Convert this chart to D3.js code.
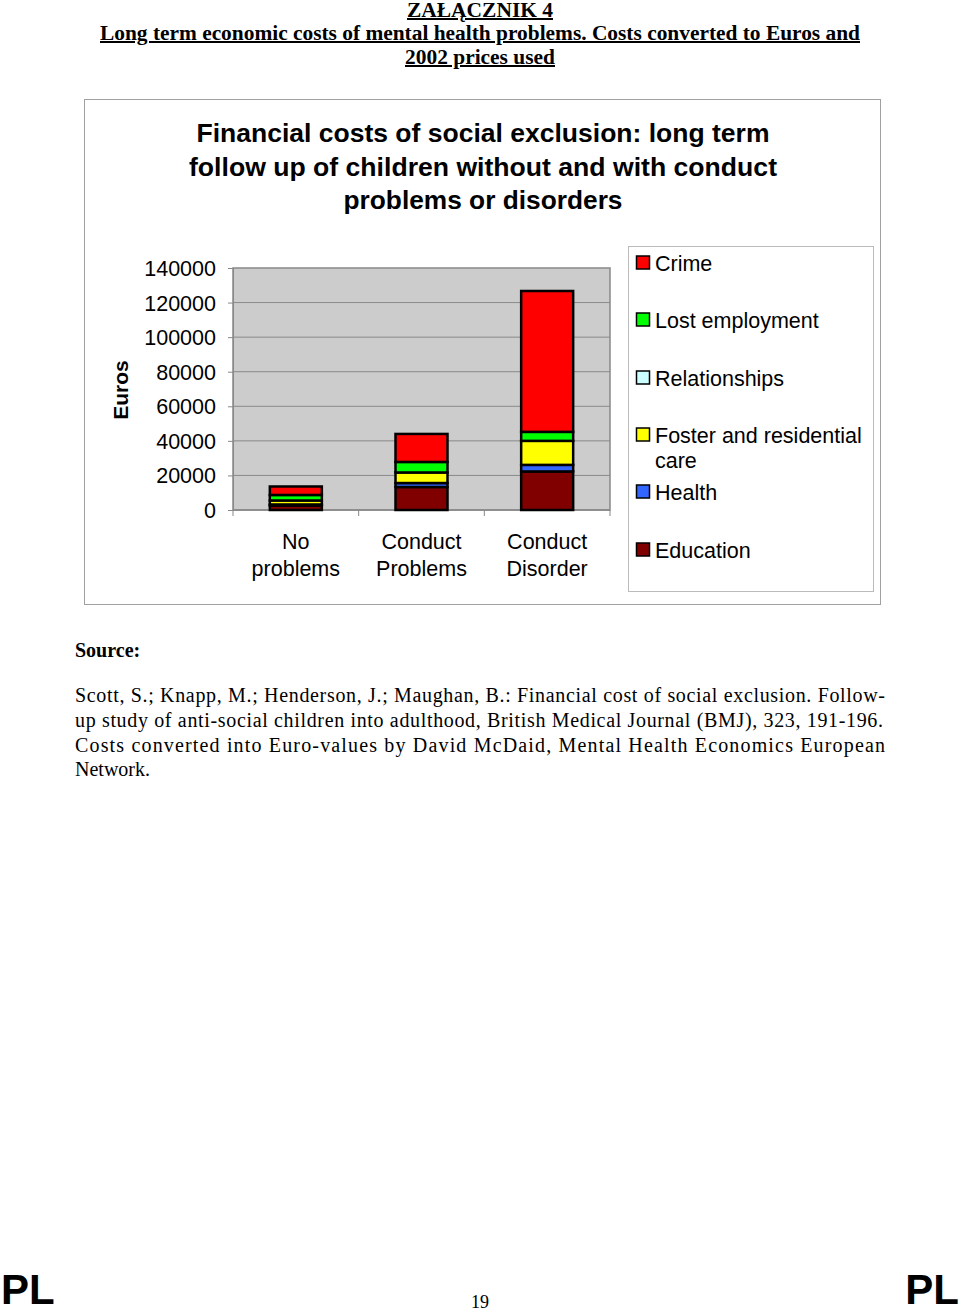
<!DOCTYPE html>
<html><head><meta charset="utf-8">
<script src="https://cdn.jsdelivr.net/npm/d3@7"></script>
<style>body{margin:0;background:#fff}svg{display:block}</style>
</head><body>
<script>
const categories = [["No","problems"],["Conduct","Problems"],["Conduct","Disorder"]];
const categoryKeys = ["No problems","Conduct Problems","Conduct Disorder"];
const seriesNames = ["Education","Health","Foster and residential care","Relationships","Lost employment","Crime"];
const education   = [2600, 13300, 22300];
const health      = [600, 2300, 3800];
const foster      = [2300, 6100, 13900];
const relationships = [0, 0, 0];
const lostEmployment = [3200, 6100, 5200];
const crime       = [4900, 16200, 81500];
const yTicks = [0,20000,40000,60000,80000,100000,120000,140000];
const legendOrder = ["Crime","Lost employment","Relationships","Foster and residential care","Health","Education"];
const colors = {"Crime":"#ff0000","Lost employment":"#00ff00","Relationships":"#ccffff","Foster and residential care":"#ffff00","Health":"#3366ff","Education":"#800000"};

const W=960,H=1313;
const svg=d3.select("body").append("svg").attr("width",W).attr("height",H);

const serif="'Liberation Serif','Times New Roman',serif";
const sans="'Liberation Sans',Arial,sans-serif";
function headerLine(txt,y,len){
  svg.append("text").attr("x",480).attr("y",y).attr("text-anchor","middle")
    .attr("font-family",serif).attr("font-weight","bold").attr("font-size",20)
    .attr("text-decoration","underline")
    .attr("textLength",len).attr("lengthAdjust","spacingAndGlyphs").text(txt);
}
headerLine("ZAŁĄCZNIK 4",17,146);
headerLine("Long term economic costs of mental health problems. Costs converted to Euros and",40,760);
headerLine("2002 prices used",64,150);

svg.append("rect").attr("x",84.5).attr("y",99.5).attr("width",796).attr("height",505)
  .attr("fill","#fff").attr("stroke","#a0a0a0").attr("stroke-width",1);

const titleLines=[["Financial costs of social exclusion: long term",142,573],["follow up of children without and with conduct",176,588],["problems or disorders",209,279]];
titleLines.forEach(([t,y,l])=>{
  svg.append("text").attr("x",483).attr("y",y).attr("text-anchor","middle")
    .attr("font-family",sans).attr("font-weight","bold").attr("font-size",26)
    .attr("textLength",l).attr("lengthAdjust","spacingAndGlyphs").text(t);
});

const px0=233,px1=610,py0=268,py1=510;
const x=d3.scaleBand().domain(categoryKeys).range([px0,px1]).paddingInner(0).paddingOuter(0);
const y=d3.scaleLinear().domain([0,140000]).range([py1,py0]);

svg.append("rect").attr("x",px0).attr("y",py0).attr("width",px1-px0).attr("height",py1-py0)
  .attr("fill","#cccccc").attr("stroke","#888").attr("stroke-width",1.5);
svg.append("g").selectAll("line").data(yTicks.slice(1,-1)).join("line")
  .attr("x1",px0).attr("x2",px1).attr("y1",d=>y(d)).attr("y2",d=>y(d))
  .attr("stroke","#8a8a8a").attr("stroke-width",1);

const yAxis=svg.append("g").attr("transform",`translate(${px0},0)`)
  .call(d3.axisLeft(y).tickValues(yTicks).tickSize(5).tickPadding(12).tickFormat(d3.format("d")));
yAxis.select(".domain").attr("stroke","#888");
yAxis.selectAll(".tick line").attr("stroke","#888");
yAxis.selectAll("text").attr("font-family",sans).attr("font-size",21.5).attr("fill","#000").attr("dy","0.35em").attr("x",-17);

const seps=[px0].concat(categoryKeys.map(k=>x(k)+x.bandwidth()));
svg.append("g").selectAll("line").data(seps).join("line")
  .attr("x1",d=>d).attr("x2",d=>d).attr("y1",py1).attr("y2",py1+6)
  .attr("stroke","#888").attr("stroke-width",1);
svg.append("line").attr("x1",px0).attr("x2",px1).attr("y1",py1).attr("y2",py1).attr("stroke","#888").attr("stroke-width",1.5);

categories.forEach((lines,i)=>{
  const cx=x(categoryKeys[i])+x.bandwidth()/2;
  lines.forEach((t,j)=>{
    svg.append("text").attr("x",cx).attr("y",549+j*27).attr("text-anchor","middle")
      .attr("font-family",sans).attr("font-size",21.5).text(t);
  });
});

svg.append("text").attr("transform","translate(128,390) rotate(-90)").attr("text-anchor","middle")
  .attr("font-family",sans).attr("font-weight","bold").attr("font-size",21).text("Euros");

const table=categoryKeys.map((k,i)=>({cat:k,"Education":education[i],"Health":health[i],
  "Foster and residential care":foster[i],"Relationships":relationships[i],
  "Lost employment":lostEmployment[i],"Crime":crime[i]}));
const stack=d3.stack().keys(seriesNames)(table);
const bw=52;
svg.append("g").selectAll("g").data(stack).join("g").attr("fill",d=>colors[d.key])
  .selectAll("rect").data(d=>d).join("rect")
  .attr("x",d=>x(d.data.cat)+x.bandwidth()/2-bw/2)
  .attr("y",d=>y(d[1])).attr("width",bw).attr("height",d=>y(d[0])-y(d[1]))
  .attr("stroke","#000").attr("stroke-width",2.5);

svg.append("rect").attr("x",628.5).attr("y",246.5).attr("width",245).attr("height",345)
  .attr("fill","#fff").attr("stroke","#bbb").attr("stroke-width",1);
const legY={"Crime":[263],"Lost employment":[320],"Relationships":[378],"Foster and residential care":[435,460],"Health":[492],"Education":[550]};
const legLabels={"Foster and residential care":["Foster and residential","care"]};
legendOrder.forEach(k=>{
  const ys=legY[k];
  svg.append("rect").attr("x",636.5).attr("y",ys[0]-7).attr("width",13).attr("height",13)
    .attr("fill",colors[k]).attr("stroke","#000").attr("stroke-width",1.5);
  const lab=legLabels[k]||[k];
  lab.forEach((t,j)=>{
    svg.append("text").attr("x",655).attr("y",ys[j]+8).attr("font-family",sans).attr("font-size",21.5).text(t);
  });
});

svg.append("text").attr("x",75).attr("y",657).attr("font-family",serif).attr("font-weight","bold").attr("font-size",20).text("Source:");
const srcLines=[["Scott, S.; Knapp, M.; Henderson, J.; Maughan, B.: Financial cost of social exclusion. Follow-",702,810],
["up study of anti-social children into adulthood, British Medical Journal (BMJ), 323, 191-196.",727,808],
["Costs converted into Euro-values by David McDaid, Mental Health Economics European",752,810],
["Network.",776,null]];
srcLines.forEach(([t,yy,l])=>{
  const el=svg.append("text").attr("x",75).attr("y",yy).attr("font-family",serif).attr("font-size",20).text(t);
  if(l) el.attr("textLength",l).attr("lengthAdjust","spacing");
});

svg.append("text").attr("x",1).attr("y",1304).attr("font-family",sans).attr("font-weight","bold").attr("font-size",42).text("PL");
svg.append("text").attr("x",959).attr("y",1304).attr("text-anchor","end").attr("font-family",sans).attr("font-weight","bold").attr("font-size",42).text("PL");
svg.append("text").attr("x",480).attr("y",1308).attr("text-anchor","middle").attr("font-family",serif).attr("font-size",18).text("19");
</script>
</body></html>
